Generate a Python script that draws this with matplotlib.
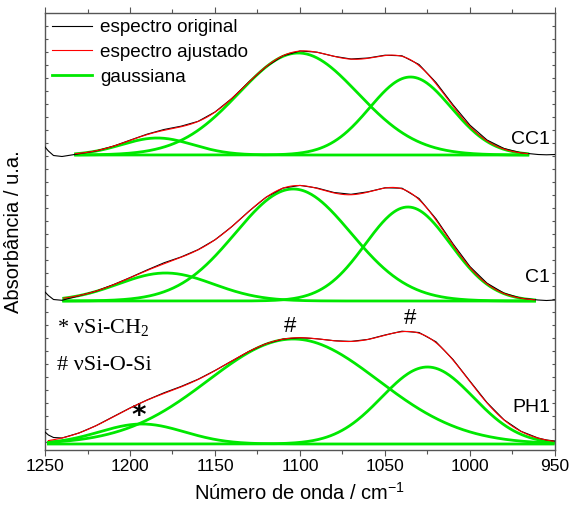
import matplotlib
matplotlib.use('Agg')
import matplotlib.pyplot as plt
import numpy as np
from matplotlib.ticker import MultipleLocator, FixedLocator

plt.rcParams['font.family'] = ['Liberation Sans', 'DejaVu Sans']
plt.rcParams['mathtext.fontset'] = 'custom'
plt.rcParams['mathtext.rm'] = 'Liberation Serif'

# ------------------------------------------------------------------
# data (absorbance in arbitrary units, spectra already offset)
# ------------------------------------------------------------------
wavenumber = [1250, 1248, 1245, 1240, 1230, 1220, 1210, 1200, 1190, 1180,
              1170, 1160, 1150, 1140, 1130, 1120, 1110, 1100, 1090, 1080,
              1070, 1060, 1050, 1040, 1030, 1020, 1010, 1000, 990, 980,
              970, 960, 955, 950]

orig_cc1 = [3.03, 2.99, 2.945, 2.935, 2.962, 2.99, 3.037, 3.098, 3.158, 3.205,
            3.238, 3.286, 3.38, 3.517, 3.681, 3.832, 3.942, 3.99, 3.978, 3.937,
            3.91, 3.92, 3.948, 3.942, 3.855, 3.675, 3.452, 3.248, 3.10, 3.015,
            2.972, 2.955, 2.952, 2.955]
orig_c1 = [1.58, 1.545, 1.505, 1.497, 1.542, 1.588, 1.652, 1.724, 1.80, 1.872,
           1.93, 2.003, 2.102, 2.235, 2.388, 2.527, 2.619, 2.646, 2.62, 2.575,
           2.557, 2.582, 2.622, 2.618, 2.515, 2.312, 2.062, 1.834, 1.668, 1.568,
           1.518, 1.50, 1.495, 1.50]
orig_ph1 = [0.18, 0.15, 0.125, 0.12, 0.17, 0.243, 0.332, 0.42, 0.50, 0.572,
            0.635, 0.707, 0.795, 0.891, 0.986, 1.063, 1.109, 1.123, 1.112, 1.093,
            1.086, 1.106, 1.15, 1.188, 1.175, 1.082, 0.905, 0.688, 0.474, 0.302,
            0.187, 0.12, 0.10, 0.09]

# gaussian components: centre (cm-1), height, sigma (cm-1)
samples = ['CC1', 'C1', 'PH1']
baselines = [2.95, 1.49, 0.06]
fit_ranges = [(1232, 966), (1239, 962), (1248, 951)]
centers = [[1184, 1101, 1035], [1179, 1104, 1036.5], [1193, 1104, 1025]]
heights = [[0.17, 1.02, 0.78], [0.28, 1.12, 0.94], [0.20, 1.05, 0.77]]
sigmas = [[21, 35, 24], [28, 34, 25], [25, 50, 27]]
originals = [orig_cc1, orig_c1, orig_ph1]
label_y = [3.10, 1.72, 0.42]

GREEN = '#00e800'
AXIS_GREY = '#555555'

fig = plt.figure(figsize=(5.72, 5.05), dpi=100)
ax = fig.add_axes([45 / 572, 55 / 505, 510 / 572, 437 / 505])

for i, name in enumerate(samples):
    ax.plot(wavenumber, originals[i], color='black', lw=0.8, zorder=3,
            label='espectro original' if i == 0 else None)
    x = np.linspace(fit_ranges[i][0], fit_ranges[i][1], 400)
    total = np.zeros_like(x)
    for k, (c, h, s) in enumerate(zip(centers[i], heights[i], sigmas[i])):
        g = h * np.exp(-(x - c) ** 2 / (2 * s ** 2))
        total += g
        ax.plot(x, baselines[i] + g, color=GREEN, lw=2.0, zorder=2,
                label='gaussiana' if (i == 0 and k == 0) else None)
    ax.plot(x, baselines[i] + total, color='red', lw=0.8, zorder=4,
            label='espectro ajustado' if i == 0 else None)
    ax.text(953, label_y[i], name, ha='right', va='center', fontsize=14)

# band assignments
ax.text(1243, 1.22, '* \u03bdSi-CH$_\\mathregular{2}$', fontsize=16,
        family='Liberation Serif', va='center', ha='left')
ax.text(1243, 0.84, '# \u03bdSi-O-Si', fontsize=16,
        family='Liberation Serif', va='center', ha='left')
ax.text(1106, 1.24, '#', fontsize=16, ha='center', va='center')
ax.text(1035, 1.31, '#', fontsize=16, ha='center', va='center')
ax.text(1195, 0.34, '*', fontsize=20, fontweight='bold', family='DejaVu Sans',
        ha='center', va='center')

ax.set_xlim(1250, 950)
ax.set_ylim(0, 4.37)
ax.xaxis.set_major_locator(MultipleLocator(50))
ax.xaxis.set_minor_locator(MultipleLocator(25))
ax.yaxis.set_major_locator(FixedLocator(np.arange(4.24, 0, -0.13)))
ax.set_yticklabels([])

for sp in ax.spines.values():
    sp.set_color(AXIS_GREY)
    sp.set_linewidth(1.0)
ax.tick_params(axis='x', which='major', direction='out', length=4.5, width=0.8,
               color=AXIS_GREY, labelsize=12.5, pad=2, top=True)
ax.tick_params(axis='x', which='minor', direction='out', length=3, width=0.8,
               color=AXIS_GREY, top=True)
ax.tick_params(axis='y', which='major', direction='in', length=2.5, width=0.8,
               color=AXIS_GREY, left=True, right=True)

ax.set_xlabel('Número de onda / cm$^\\mathregular{-1}$', fontsize=14.5, labelpad=6)
ax.set_ylabel('Absorbância / u.a.', fontsize=14.5, labelpad=12)

handles, labels = ax.get_legend_handles_labels()
order = [labels.index(l) for l in ['espectro original', 'espectro ajustado', 'gaussiana']]
ax.legend([handles[k] for k in order], [labels[k] for k in order],
          loc='upper left', frameon=False, fontsize=13.6, handlelength=2.1,
          handletextpad=0.45, labelspacing=0.4, borderpad=0, borderaxespad=0,
          bbox_to_anchor=(7 / 510, 1 - 6 / 437))

fig.savefig('out.png', dpi=100)
